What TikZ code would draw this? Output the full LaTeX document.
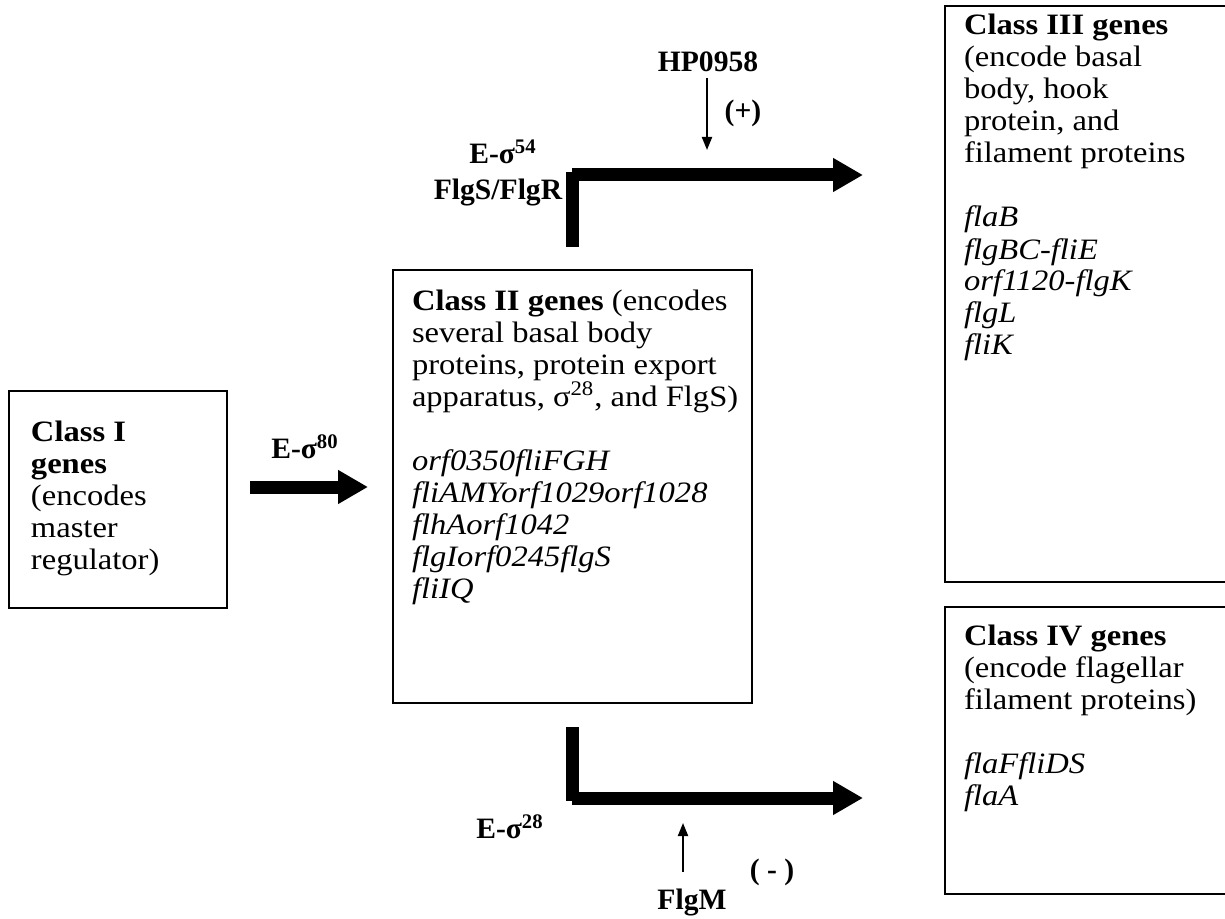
\documentclass[tikz,border=0pt]{standalone}
\usepackage{fontspec}
\setmainfont{Liberation Serif}
\newfontfamily\boxfont{Liberation Serif}[FakeStretch=1.1]
\usetikzlibrary{arrows.meta}
\begin{document}
\begin{tikzpicture}[x=0.5pt,y=-0.5pt,
  every node/.style={inner sep=0pt,outer sep=0pt},
  txt/.style={font=\boxfont\fontsize{14.8}{16}\selectfont,align=left,anchor=north west},
  lbl/.style={font=\fontsize{14.8}{16}\selectfont\bfseries,anchor=center},
  genebox/.style={draw,line width=1pt,anchor=north west},
  bigarrow/.style={line width=6.5pt,-{Triangle[length=15pt,width=16pt]}},
  thickline/.style={line width=6.5pt},
  thinarrow/.style={line width=1pt,-{Triangle[length=6.5pt,width=5pt]}}]
\useasboundingbox (0,0) rectangle (1225,919);
\clip (0,0) rectangle (1225,919);
% boxes
\node[genebox,minimum width=109pt,minimum height=108.5pt] (c1) at (9,391) {};
\node[genebox,minimum width=179.5pt,minimum height=216.5pt] (c2) at (393,270) {};
\node[genebox,minimum width=150pt,minimum height=288pt] (c3) at (945,6) {};
\node[genebox,minimum width=150pt,minimum height=143.5pt] (c4) at (945,607) {};
% texts
\node[txt] (t1) at (31,420) {\rule{0pt}{10.5pt}\textbf{Class I}\\\textbf{genes}\\(encodes\\master\\regulator)};
\node[txt] (t2) at (412,289) {\rule{0pt}{10.5pt}\textbf{Class II genes} (encodes\\several basal body\\proteins, protein export\\apparatus, σ\textsuperscript{28}, and FlgS)\\[16pt]
\textit{orf0350fliFGH}\\\textit{fliAMYorf1029orf1028}\\\textit{flhAorf1042}\\\textit{flgIorf0245flgS}\\\textit{fliIQ}};
\node[txt] (t3) at (964,14) {\rule{0pt}{10.5pt}\textbf{Class III genes}\\(encode basal\\body, hook\\protein, and\\filament proteins\\[16pt]
\textit{flaB}\\\textit{flgBC-fliE}\\\textit{orf1120-flgK}\\\textit{flgL}\\\textit{fliK}};
\node[txt] (t4) at (964,624) {\rule{0pt}{10.5pt}\textbf{Class IV genes}\\(encode flagellar\\filament proteins)\\[16pt]
\textit{flaFfliDS}\\\textit{flaA}};
% labels
\node[lbl] (l80) at (305,447) {E-σ\textsuperscript{80}};
\node[lbl] (l54) at (503,152) {E-σ\textsuperscript{54}};
\node[lbl] (lfr) at (498,193) {FlgS/FlgR};
\node[lbl] (hp) at (708,62) {HP0958};
\node[lbl] (plus) at (743,113) {(+)};
\node[lbl] (l28) at (510,827) {E-σ\textsuperscript{28}};
\node[lbl] (flgm) at (692,902) {FlgM};
\node[lbl] (minus) at (772,872) {( - )};
% coordinates
\coordinate (a80s) at (250,487);
\coordinate (a80e) at (368,487);
\coordinate (up0) at (572,247);
\coordinate (up1) at (572,172);
\coordinate (up2) at (572,175);
\coordinate (up3) at (863,175);
\coordinate (dn0) at (572,727);
\coordinate (dn1) at (572,801);
\coordinate (dn2) at (572,798);
\coordinate (dn3) at (863,798);
\coordinate (hps) at (707,78);
\coordinate (hpe) at (707,150);
\coordinate (fms) at (683,872);
\coordinate (fme) at (683,823);
% arrows
\draw[bigarrow] (a80s) -- (a80e);
\draw[thickline] (up0) -- (up1);
\draw[bigarrow] (up2) -- (up3);
\draw[thickline] (dn0) -- (dn1);
\draw[bigarrow] (dn2) -- (dn3);
\draw[thinarrow] (hps) -- (hpe);
\draw[thinarrow] (fms) -- (fme);
\end{tikzpicture}
\end{document}
